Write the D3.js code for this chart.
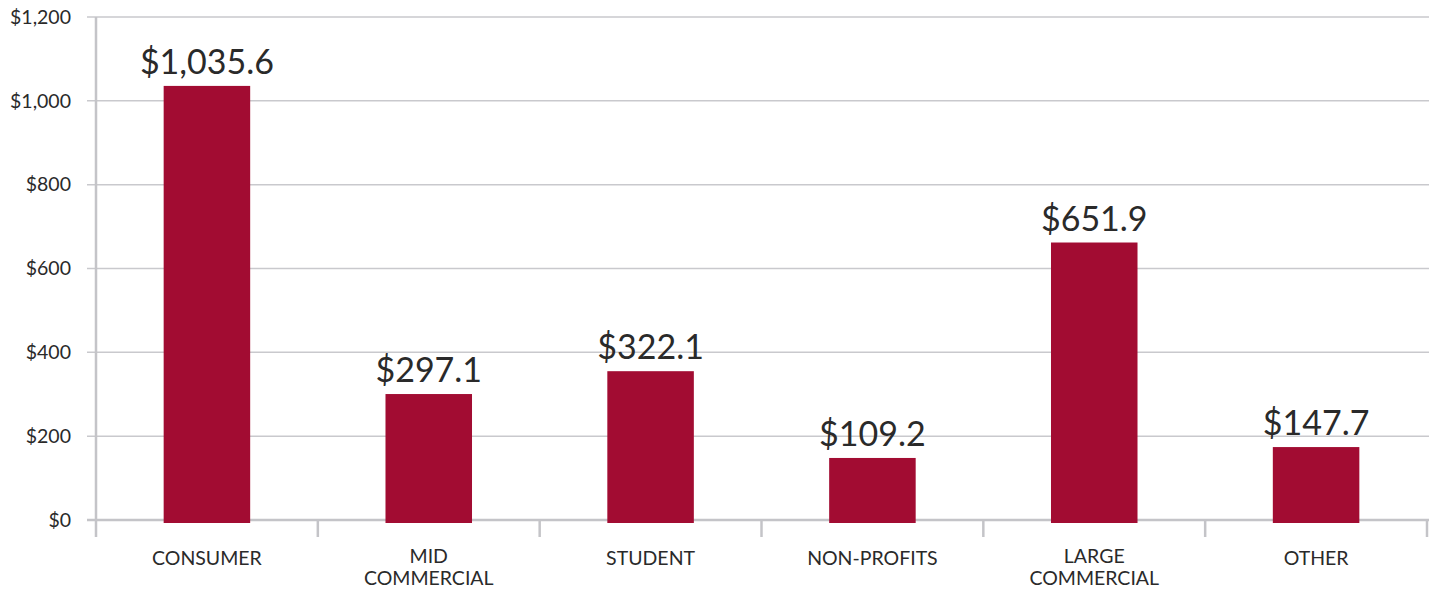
<!DOCTYPE html>
<html>
<head>
<meta charset="utf-8">
<script src="https://cdn.jsdelivr.net/npm/d3@7"></script>
<style>
  body { margin: 0; background: #fff; }
  svg text { font-family: Lato, "Open Sans", sans-serif; fill: #2a2a2a; }
</style>
</head>
<body>
<div id="chart"></div>
<script>
// Data
const categories = ["CONSUMER", "MID\nCOMMERCIAL", "STUDENT", "NON-PROFITS", "LARGE\nCOMMERCIAL", "OTHER"];
// bar heights as drawn in the picture
const barValues = [1035.6, 300.5, 355, 148, 662, 174];
// labels printed above the bars
const barLabels = ["$1,035.6", "$297.1", "$322.1", "$109.2", "$651.9", "$147.7"];
const yTicks = [0, 200, 400, 600, 800, 1000, 1200];

const width = 1437,
    height = 590,
    margin = { top: 17, right: 10, bottom: 70, left: 96 };

const svg = d3.select("#chart")
    .append("svg")
    .attr("width", width)
    .attr("height", height);

const x = d3.scaleBand()
    .domain(categories)
    .range([margin.left, width - margin.right]);

const y = d3.scaleLinear()
    .domain([0, 1200])
    .range([height - margin.bottom, margin.top]);

// Grid lines
svg.append("g")
    .selectAll("line")
    .data(yTicks.filter(d => d > 0))
    .join("line")
    .attr("x1", margin.left - 9)
    .attr("x2", width - margin.right + 2)
    .attr("y1", d => y(d))
    .attr("y2", d => y(d))
    .attr("stroke", "#c9c9cd")
    .attr("stroke-width", 1.5);

// Y tick labels
svg.append("g")
    .selectAll("text")
    .data(yTicks)
    .join("text")
    .attr("x", 71)
    .attr("y", d => y(d))
    .attr("dy", "0.35em")
    .attr("text-anchor", "end")
    .style("font-size", "19.5px")
    .text(d => "$" + d3.format(",")(d));

// Baseline and y axis line
svg.append("line")
    .attr("x1", margin.left - 9)
    .attr("x2", width - margin.right + 2)
    .attr("y1", y(0))
    .attr("y2", y(0))
    .attr("stroke", "#c4c4c8")
    .attr("stroke-width", 2.5);

svg.append("line")
    .attr("x1", margin.left)
    .attr("x2", margin.left)
    .attr("y1", y(1200))
    .attr("y2", y(0) + 17)
    .attr("stroke", "#c4c4c8")
    .attr("stroke-width", 2.5);

// Category boundary ticks
svg.append("g")
    .selectAll("line")
    .data(categories.slice(1).map(d => x(d)).concat([width - margin.right]))
    .join("line")
    .attr("x1", d => d)
    .attr("x2", d => d)
    .attr("y1", y(0))
    .attr("y2", y(0) + 17)
    .attr("stroke", "#c4c4c8")
    .attr("stroke-width", 2.5);

// Bars (drawn over the baseline)
const barW = x.bandwidth() * 0.39;
svg.append("g")
    .selectAll("rect")
    .data(categories)
    .join("rect")
    .attr("x", d => x(d) + (x.bandwidth() - barW) / 2)
    .attr("y", (d, i) => y(barValues[i]))
    .attr("width", barW)
    .attr("height", (d, i) => y(0) - y(barValues[i]) + 3)
    .attr("fill", "#a20c32");

// Value labels
svg.append("g")
    .selectAll("text")
    .data(categories)
    .join("text")
    .attr("x", d => x(d) + x.bandwidth() / 2)
    .attr("y", (d, i) => y(barValues[i]) - 12)
    .attr("text-anchor", "middle")
    .style("font-size", "34px")
    .text((d, i) => barLabels[i]);

// Category labels
const catLabels = svg.append("g")
    .selectAll("text")
    .data(categories)
    .join("text")
    .attr("x", d => x(d) + x.bandwidth() / 2)
    .attr("y", 565)
    .attr("text-anchor", "middle")
    .style("font-size", "19.5px");

catLabels.selectAll("tspan")
    .data(d => d.split("\n"))
    .join("tspan")
    .attr("x", function() { return d3.select(this.parentNode).attr("x"); })
    .attr("dy", (d, i) => i === 0 ? 0 : 22)
    .text(d => d);

// Two-line labels start a bit higher
catLabels.filter(d => d.includes("\n")).attr("y", 563);
</script>
</body>
</html>
